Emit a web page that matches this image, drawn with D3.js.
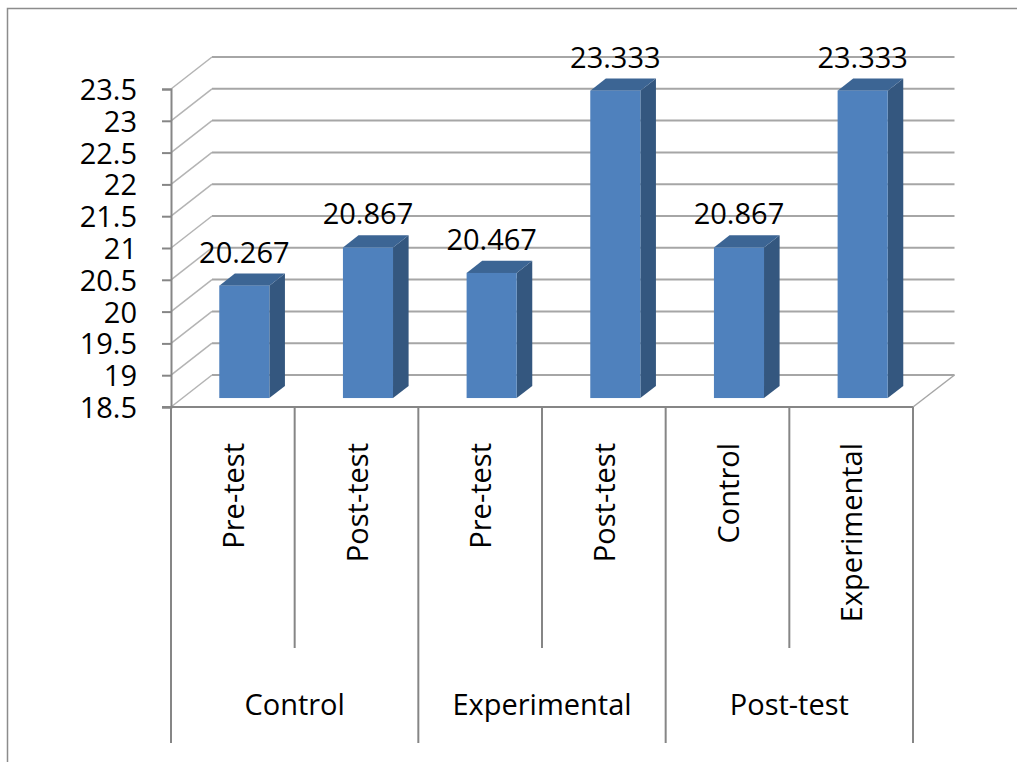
<!DOCTYPE html>
<html>
<head>
<meta charset="utf-8">
<script src="https://cdn.jsdelivr.net/npm/d3@7"></script>
<style>
  html, body { margin: 0; padding: 0; background: #fff; }
  svg text { font-family: "Open Sans", "Noto Sans", sans-serif; fill: #000; }
</style>
</head>
<body>
<svg id="chart" width="1017" height="762"></svg>
<script>
// Mean scores by group and test phase
const groups = ["Control", "Experimental", "Post-test"];
const categories = ["Pre-test", "Post-test", "Pre-test", "Post-test", "Control", "Experimental"];
const categoryGroup = [0, 0, 1, 1, 2, 2];
const values = [20.267, 20.867, 20.467, 23.333, 20.867, 23.333];
const valueLabels = ["20.267", "20.867", "20.467", "23.333", "20.867", "23.333"];
const yTicks = [18.5, 19, 19.5, 20, 20.5, 21, 21.5, 22, 22.5, 23, 23.5];

const svg = d3.select("#chart");

// plot frame (front plane) and 3D depth offset of the back wall
const left = 171, right = 913, floorY = 407, topY = 89;
const depthX = 41, depthY = 32;
const barFront = 0.28, barBack = 0.66;   // bar depth as fraction of the box depth

const x = d3.scaleBand().domain(d3.range(categories.length)).range([left, right]).padding(0);
const y = d3.scaleLinear().domain([18.5, 23.5]).range([floorY, topY]);

// outer chart border
svg.append("rect")
  .attr("x", 7.5).attr("y", 8.5).attr("width", 1040).attr("height", 800)
  .attr("fill", "none").attr("stroke", "#8c8c8c").attr("stroke-width", 1.5);

const grid = svg.append("g").attr("fill", "none");

// back-wall gridlines and their diagonals to the value axis
yTicks.forEach(v => {
  grid.append("line")
    .attr("x1", left + depthX).attr("x2", right + depthX + 0.5)
    .attr("y1", y(v) - depthY).attr("y2", y(v) - depthY)
    .attr("stroke", "#a6a6a6").attr("stroke-width", 2);
  grid.append("line")
    .attr("x1", left).attr("y1", y(v))
    .attr("x2", left + depthX).attr("y2", y(v) - depthY)
    .attr("stroke", "#b4b4b4").attr("stroke-width", 1.5);
});

// floor: right diagonal edge
grid.append("line")
  .attr("x1", right).attr("y1", floorY)
  .attr("x2", right + depthX + 0.5).attr("y2", floorY - depthY)
  .attr("stroke", "#a6a6a6").attr("stroke-width", 1.5);

// bars
const barW = x.bandwidth() * 0.405;
const shiftX = barFront * depthX, shiftY = barFront * depthY;
const ddx = (barBack - barFront) * depthX, ddy = (barBack - barFront) * depthY;

const bars = svg.append("g").selectAll("g").data(values).join("g");
bars.each(function(v, i) {
  const g = d3.select(this);
  const cx = x(i) + x.bandwidth() / 2 + shiftX;
  const xl = cx - barW / 2, xr = cx + barW / 2;
  const yb = y(18.5) - shiftY, yt = y(v) - shiftY;
  // side face
  g.append("polygon")
    .attr("points", [[xr, yb], [xr + ddx, yb - ddy], [xr + ddx, yt - ddy], [xr, yt]].join(" "))
    .attr("fill", "#34577f");
  // top face
  g.append("polygon")
    .attr("points", [[xl, yt], [xl + ddx, yt - ddy], [xr + ddx, yt - ddy], [xr, yt]].join(" "))
    .attr("fill", "#3c6594");
  // front face
  g.append("rect")
    .attr("x", xl).attr("y", yt).attr("width", barW).attr("height", yb - yt)
    .attr("fill", "#4f81bd");
  // value label
  g.append("text")
    .attr("x", cx).attr("y", yt - 23)
    .attr("text-anchor", "middle")
    .attr("font-size", 29)
    .text(valueLabels[i]);
});

// value axis on the front plane
const yAxis = d3.axisLeft(y).tickValues(yTicks).tickSize(9).tickPadding(25)
  .tickFormat(d => String(d));
const ya = svg.append("g").attr("transform", `translate(${left},0)`).call(yAxis);
ya.select(".domain").attr("stroke", "#868686").attr("stroke-width", 2);
ya.selectAll(".tick line").attr("stroke", "#868686").attr("stroke-width", 2);
ya.selectAll(".tick text")
  .attr("font-size", 29).attr("font-family", "Open Sans, Noto Sans, sans-serif")
  .attr("fill", "#000").attr("dy", "0.36em");

// category axis: front floor edge and divider lines
svg.append("line")
  .attr("x1", left - 9).attr("x2", right).attr("y1", floorY).attr("y2", floorY)
  .attr("stroke", "#868686").attr("stroke-width", 2);

const catBottom = 648, groupBottom = 743;
d3.range(categories.length + 1).forEach(i => {
  const xx = i < categories.length ? x(i) : right;
  const isGroupEdge = i === 0 || i === categories.length || categoryGroup[i] !== categoryGroup[i - 1];
  svg.append("line")
    .attr("x1", xx).attr("x2", xx)
    .attr("y1", floorY).attr("y2", isGroupEdge ? groupBottom : catBottom)
    .attr("stroke", "#868686").attr("stroke-width", 2);
});

// rotated category labels
categories.forEach((c, i) => {
  const cx = x(i) + x.bandwidth() / 2 + 11;
  svg.append("text")
    .attr("transform", `translate(${cx},443) rotate(-90)`)
    .attr("text-anchor", "end")
    .attr("font-size", 29)
    .text(c);
});

// group labels
groups.forEach((gname, gi) => {
  const idx = d3.range(categories.length).filter(i => categoryGroup[i] === gi);
  const gx = (x(idx[0]) + x(idx[idx.length - 1]) + x.bandwidth()) / 2;
  svg.append("text")
    .attr("x", gx).attr("y", 715)
    .attr("text-anchor", "middle")
    .attr("font-size", 29)
    .text(gname);
});
</script>
</body>
</html>
